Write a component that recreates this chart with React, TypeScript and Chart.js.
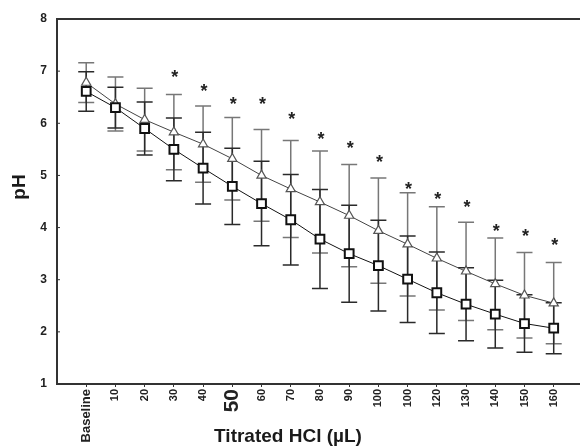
import React, { useEffect, useRef } from "react";
import { Chart, registerables } from "chart.js";

Chart.register(...registerables);

const xLabels = ["Baseline", "10", "20", "30", "40", "50", "60", "70", "80", "90", "100", "100", "120", "130", "140", "150", "160"];

const squareMeans = [6.61, 6.3, 5.9, 5.5, 5.14, 4.79, 4.46, 4.15, 3.78, 3.5, 3.27, 3.01, 2.75, 2.53, 2.34, 2.16, 2.07];
const squareErrors = [0.38, 0.39, 0.51, 0.6, 0.69, 0.73, 0.81, 0.87, 0.95, 0.93, 0.87, 0.83, 0.78, 0.7, 0.65, 0.55, 0.49];

const triangleMeans = [6.78, 6.37, 6.07, 5.83, 5.6, 5.32, 5.0, 4.74, 4.49, 4.23, 3.94, 3.68, 3.41, 3.16, 2.92, 2.7, 2.55];
const triangleErrors = [0.38, 0.52, 0.6, 0.72, 0.73, 0.79, 0.88, 0.93, 0.98, 0.98, 1.01, 0.99, 0.99, 0.94, 0.88, 0.82, 0.78];

const starIndex = [3, 4, 5, 6, 7, 8, 9, 10, 11, 12, 13, 14, 15, 16];
const starValues = [6.96, 6.69, 6.44, 6.44, 6.15, 5.78, 5.61, 5.34, 4.81, 4.63, 4.47, 4.01, 3.92, 3.75];

const yTicks = [1, 2, 3, 4, 5, 6, 7, 8];

const xTitle = "Titrated HCl (µL)";
const yTitle = "pH";

const FONT = "'Liberation Sans', Arial, sans-serif";

const overlayPlugin = {
  id: "overlay",
  beforeDatasetsDraw(chart: any) {
    const { ctx, scales, chartArea } = chart;
    const xs = scales.x;
    const ys = scales.y;
    const drawBars = (means: number[], errs: number[], color: string) => {
      ctx.save();
      ctx.strokeStyle = color;
      ctx.lineWidth = 1.5;
      means.forEach((m, i) => {
        const px = xs.getPixelForValue(i);
        const top = ys.getPixelForValue(m + errs[i]);
        const bot = ys.getPixelForValue(m - errs[i]);
        ctx.beginPath();
        ctx.moveTo(px, top);
        ctx.lineTo(px, bot);
        ctx.moveTo(px - 8, top);
        ctx.lineTo(px + 8, top);
        ctx.moveTo(px - 8, bot);
        ctx.lineTo(px + 8, bot);
        ctx.stroke();
      });
      ctx.restore();
    };
    drawBars(triangleMeans, triangleErrors, "#777777");
    drawBars(squareMeans, squareErrors, "#2a2a2a");

    ctx.save();
    ctx.strokeStyle = "#333";
    ctx.lineWidth = 2;
    ctx.beginPath();
    ctx.moveTo(chartArea.left - 1, chartArea.top);
    ctx.lineTo(chartArea.right, chartArea.top);
    ctx.stroke();
    ctx.lineWidth = 1;
    yTicks.forEach((v) => {
      const py = ys.getPixelForValue(v);
      ctx.beginPath();
      ctx.moveTo(chartArea.left, py);
      ctx.lineTo(chartArea.left + 3, py);
      ctx.stroke();
    });
    ctx.restore();
  },
  afterDatasetsDraw(chart: any) {
    const { ctx, scales } = chart;
    const xs = scales.x;
    const ys = scales.y;
    ctx.save();
    ctx.fillStyle = "#222";
    ctx.font = `bold 18px ${FONT}`;
    ctx.textAlign = "center";
    ctx.textBaseline = "alphabetic";
    starIndex.forEach((idx, k) => {
      const px = xs.getPixelForValue(idx);
      const py = ys.getPixelForValue(starValues[k]);
      ctx.fillText("*", px + 1, py + 10);
    });
    ctx.restore();
  },
  afterDraw(chart: any) {
    const { ctx } = chart;
    ctx.save();
    ctx.fillStyle = "#1a1a1a";
    ctx.font = `bold 19px ${FONT}`;
    ctx.textAlign = "center";
    ctx.textBaseline = "middle";
    ctx.fillText(xTitle, 288, 437);
    ctx.translate(20, 187);
    ctx.rotate(-Math.PI / 2);
    ctx.fillText(yTitle, 0, 0);
    ctx.restore();
  },
};

export default function App() {
  const ref = useRef<HTMLCanvasElement | null>(null);
  useEffect(() => {
    if (!ref.current) return;
    const chart = new Chart(ref.current, {
      type: "line",
      data: {
        datasets: [
          {
            label: "Square",
            data: squareMeans.map((v, i) => ({ x: i, y: v })),
            borderColor: "#111",
            borderWidth: 1,
            pointStyle: "rect",
            pointRadius: 6.2,
            pointBorderWidth: 2,
            pointBorderColor: "#111",
            pointBackgroundColor: "#fff",
            fill: false,
            tension: 0,
          },
          {
            label: "Triangle",
            data: triangleMeans.map((v, i) => ({ x: i, y: v })),
            borderColor: "#444",
            borderWidth: 1,
            pointStyle: "triangle",
            pointRadius: 5.3,
            pointBorderWidth: 1.2,
            pointBorderColor: "#555",
            pointBackgroundColor: "#fff",
            fill: false,
            tension: 0,
          },
        ],
      },
      options: {
        animation: false,
        responsive: false,
        maintainAspectRatio: false,
        layout: { autoPadding: false, padding: { top: 19, right: 0, left: 0, bottom: 0 } },
        plugins: {
          legend: { display: false },
          tooltip: { enabled: false },
          title: { display: false },
        },
        scales: {
          x: {
            type: "linear",
            position: "bottom",
            min: -1,
            max: 16.9,
            afterBuildTicks: (scale: any) => {
              scale.ticks = xLabels.map((_, i) => ({ value: i }));
            },
            afterFit: (scale: any) => {
              scale.height = 62;
              scale.paddingLeft = 0;
              scale.paddingRight = 0;
            },
            ticks: {
              autoSkip: false,
              minRotation: 90,
              maxRotation: 90,
              padding: 2,
              color: "#222",
              callback: (v: any) => xLabels[Number(v)] ?? "",
              font: (ctx: any) => ({
                family: FONT,
                weight: "bold",
                size: ctx.index === 0 ? 13 : ctx.index === 5 ? 21 : 11,
              }),
            },
            grid: {
              display: true,
              drawOnChartArea: false,
              drawTicks: true,
              tickLength: 3,
              color: "#333",
              lineWidth: 1,
            },
            border: { display: true, color: "#333", width: 2 },
          },
          y: {
            type: "linear",
            position: "left",
            min: 1,
            max: 8,
            afterBuildTicks: (scale: any) => {
              scale.ticks = yTicks.map((v) => ({ value: v }));
            },
            afterFit: (scale: any) => {
              scale.width = 57;
              scale.paddingTop = 0;
              scale.paddingBottom = 0;
            },
            ticks: {
              padding: 10,
              color: "#222",
              font: { family: FONT, weight: "bold", size: 12 },
            },
            grid: {
              display: true,
              drawOnChartArea: false,
              drawTicks: false,
            },
            border: { display: true, color: "#333", width: 2 },
          },
        },
      },
      plugins: [overlayPlugin],
    } as any);
    return () => chart.destroy();
  }, []);
  return (
    <div style={{ position: "fixed", left: 0, top: 0, width: 580, height: 446, background: "#fff" }}>
      <canvas ref={ref} width={580} height={446} style={{ display: "block" }} />
    </div>
  );
}
